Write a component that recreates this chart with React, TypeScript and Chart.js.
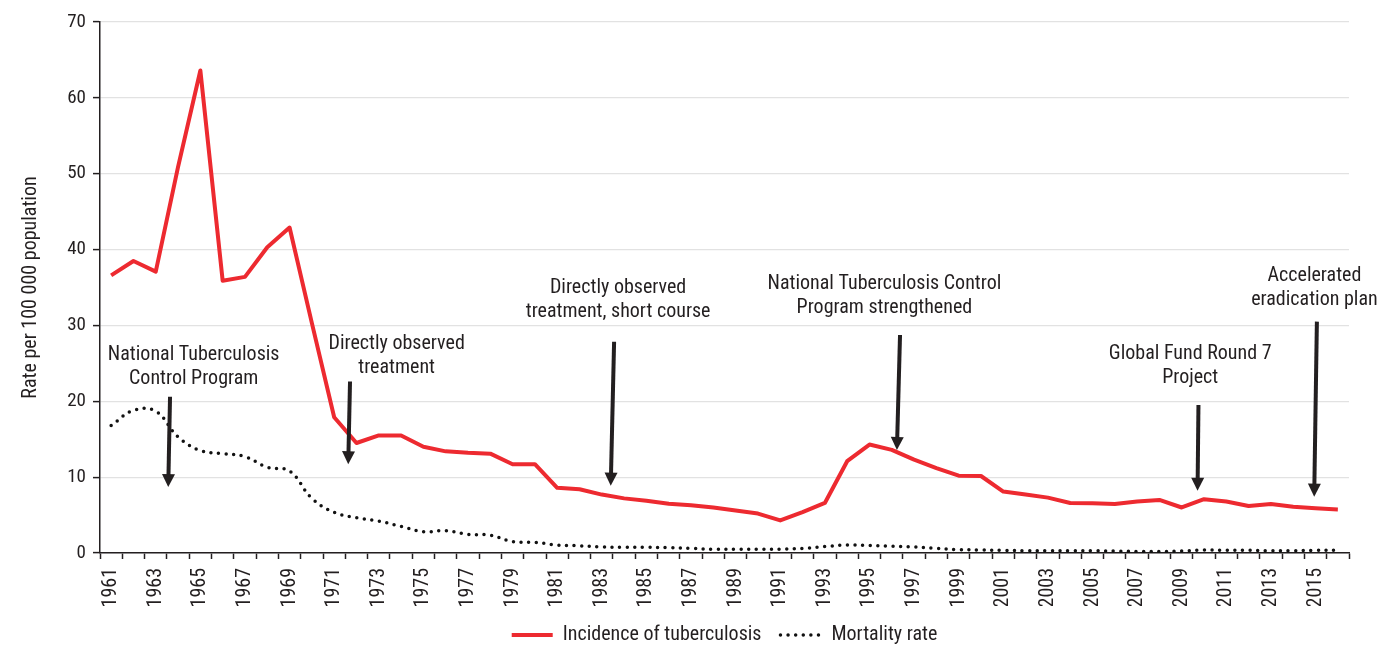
import React, { useEffect, useRef } from 'react';
import { Chart, registerables } from 'chart.js';

Chart.register(...registerables);

const years = [
  '1961', '1962', '1963', '1964', '1965', '1966', '1967', '1968', '1969', '1970',
  '1971', '1972', '1973', '1974', '1975', '1976', '1977', '1978', '1979', '1980',
  '1981', '1982', '1983', '1984', '1985', '1986', '1987', '1988', '1989', '1990',
  '1991', '1992', '1993', '1994', '1995', '1996', '1997', '1998', '1999', '2000',
  '2001', '2002', '2003', '2004', '2005', '2006', '2007', '2008', '2009', '2010',
  '2011', '2012', '2013', '2014', '2015', '2016',
];

const incidence = [
  36.6, 38.5, 37.1, 50.9, 63.6, 35.9, 36.4, 40.3, 42.9, 30.3,
  17.9, 14.5, 15.5, 15.5, 14.0, 13.4, 13.2, 13.1, 11.7, 11.7,
  8.6, 8.4, 7.7, 7.2, 6.9, 6.5, 6.3, 6.0, 5.6, 5.2,
  4.3, 5.4, 6.6, 12.1, 14.3, 13.6, 12.3, 11.2, 10.2, 10.15,
  8.1, 7.7, 7.3, 6.6, 6.55, 6.45, 6.8, 7.0, 6.0, 7.1,
  6.8, 6.2, 6.45, 6.1, 5.9, 5.75,
];

const mortality = [
  16.8, 18.8, 18.7, 15.3, 13.5, 13.1, 12.7, 11.3, 10.8, 7.2,
  5.35, 4.65, 4.2, 3.5, 2.8, 2.95, 2.45, 2.35, 1.5, 1.4,
  1.05, 0.95, 0.8, 0.75, 0.75, 0.7, 0.6, 0.5, 0.5, 0.5,
  0.5, 0.6, 0.85, 1.05, 1.0, 0.9, 0.8, 0.6, 0.45, 0.4,
  0.35, 0.3, 0.3, 0.3, 0.3, 0.25, 0.2, 0.2, 0.25, 0.4,
  0.35, 0.35, 0.3, 0.3, 0.35, 0.35,
];

const seriesNames = ['Incidence of tuberculosis', 'Mortality rate'];
const yAxisTitle = 'Rate per 100 000 population';

// Annotations (positions in data units: x = category index, y = rate)
const annotationLines = [
  ['National Tuberculosis', 'Control Program'],
  ['Directly observed', 'treatment'],
  ['Directly observed', 'treatment, short course'],
  ['National Tuberculosis Control', 'Program strengthened'],
  ['Global Fund Round 7', 'Project'],
  ['Accelerated', 'eradication plan'],
];
const annotationTextX = [3.7, 12.8, 22.73, 34.67, 48.38, 53.95];
const annotationTextY = [26.1, 27.55, 34.9, 35.46, 26.2, 36.5];
const arrowTopX = [2.64, 10.71, 22.55, 35.37, 48.75, 54.06];
const arrowTopY = [20.6, 22.6, 27.85, 28.74, 19.5, 30.5];
const arrowTipX = [2.56, 10.63, 22.4, 35.23, 48.71, 53.94];
const arrowTipY = [8.7, 11.7, 8.87, 13.58, 8.2, 7.42];

const FONT = "'Liberation Sans Narrow', 'Roboto Condensed', 'DejaVu Sans Condensed', 'Liberation Sans', sans-serif";
const TEXT = '#231f20';
const RED = '#ed2a30';

const annotationPlugin = {
  id: 'tbAnnotations',
  afterDatasetsDraw(chart: any) {
    const { ctx, scales } = chart;
    const xs = scales.x;
    const ys = scales.y;
    ctx.save();
    ctx.fillStyle = TEXT;
    ctx.strokeStyle = TEXT;
    ctx.font = `20px ${FONT}`;
    ctx.textAlign = 'center';
    ctx.textBaseline = 'middle';
    annotationLines.forEach((lines, i) => {
      const tx = xs.getPixelForValue(annotationTextX[i]);
      const ty = ys.getPixelForValue(annotationTextY[i]);
      lines.forEach((line, j) => {
        ctx.fillText(line, tx, ty + j * 23.5);
      });
      const x1 = xs.getPixelForValue(arrowTopX[i]);
      const y1 = ys.getPixelForValue(arrowTopY[i]);
      const x2 = xs.getPixelForValue(arrowTipX[i]);
      const y2 = ys.getPixelForValue(arrowTipY[i]);
      const dx = x2 - x1;
      const dy = y2 - y1;
      const len = Math.sqrt(dx * dx + dy * dy);
      const ux = dx / len;
      const uy = dy / len;
      const headLen = 13;
      const headHalf = 6.5;
      const bx = x2 - ux * headLen;
      const by = y2 - uy * headLen;
      ctx.lineWidth = 4;
      ctx.lineCap = 'butt';
      ctx.beginPath();
      ctx.moveTo(x1, y1);
      ctx.lineTo(bx + ux * 1, by + uy * 1);
      ctx.stroke();
      ctx.beginPath();
      ctx.moveTo(x2, y2);
      ctx.lineTo(bx - uy * headHalf, by + ux * headHalf);
      ctx.lineTo(bx + uy * headHalf, by - ux * headHalf);
      ctx.closePath();
      ctx.fill();
    });
    ctx.restore();
  },
};

export default function App() {
  const canvasRef = useRef<HTMLCanvasElement | null>(null);

  useEffect(() => {
    const canvas = canvasRef.current;
    if (!canvas) return;
    const chart = new Chart(canvas, {
      type: 'line',
      data: {
        labels: years,
        datasets: [
          {
            label: seriesNames[0],
            data: incidence,
            borderColor: RED,
            backgroundColor: RED,
            borderWidth: 4,
            pointRadius: 0,
            tension: 0,
            borderJoinStyle: 'round',
            borderCapStyle: 'butt',
          },
          {
            label: seriesNames[1],
            data: mortality,
            borderColor: '#111111',
            backgroundColor: '#111111',
            borderWidth: 3.5,
            borderDash: [0, 7.6],
            borderCapStyle: 'round',
            pointRadius: 0,
            tension: 0.4,
          },
        ],
      },
      options: {
        responsive: false,
        animation: false,
        events: [],
        layout: { padding: { left: 0, right: 38, top: 22, bottom: 0 } },
        plugins: {
          legend: {
            position: 'bottom',
            fullSize: false,
            labels: {
              usePointStyle: true,
              pointStyle: 'line',
              pointStyleWidth: 41,
              padding: 19,
              color: TEXT,
              font: { family: FONT, size: 20 },
              generateLabels: (chart: any) => {
                const items = Chart.defaults.plugins.legend.labels.generateLabels(chart);
                return items.map((item: any) => {
                  const ds: any = chart.data.datasets[item.datasetIndex];
                  return {
                    ...item,
                    lineDash: ds.borderDash || [],
                    lineCap: ds.borderCapStyle || 'butt',
                    lineWidth: ds.borderWidth,
                    strokeStyle: ds.borderColor,
                    fillStyle: ds.borderColor,
                    fontColor: TEXT,
                  };
                });
              },
            },
          },
          tooltip: { enabled: false },
        },
        scales: {
          x: {
            type: 'category',
            offset: true,
            grid: {
              display: true,
              drawOnChartArea: false,
              drawTicks: true,
              tickLength: 6,
              tickColor: TEXT,
              tickWidth: 1.5,
              offset: true,
            },
            border: { display: true, color: TEXT, width: 1.5 },
            ticks: {
              autoSkip: false,
              maxRotation: 90,
              minRotation: 90,
              padding: 9,
              color: TEXT,
              font: { family: FONT, size: 20 },
              callback: (_v: any, i: number) => (i % 2 === 0 ? years[i] : ''),
            },
            afterFit: (scale: any) => {
              scale.height = 53;
            },
          },
          y: {
            min: 0,
            max: 70,
            ticks: {
              stepSize: 10,
              padding: 7,
              color: TEXT,
              font: { family: FONT, size: 19 },
            },
            grid: {
              color: '#e2e2e2',
              lineWidth: 1.2,
              tickColor: TEXT,
              tickLength: 7,
              tickWidth: 1.5,
            },
            border: { display: true, color: TEXT, width: 1.5 },
            title: {
              display: true,
              text: yAxisTitle,
              color: TEXT,
              font: { family: FONT, size: 20 },
              padding: { top: 19, bottom: 0 },
            },
            afterFit: (scale: any) => {
              scale.width = 100;
            },
          },
        },
      },
      plugins: [annotationPlugin],
    });
    return () => chart.destroy();
  }, []);

  return (
    <div
      style={{
        position: 'fixed',
        left: 0,
        top: 0,
        width: 1387,
        height: 645,
        overflow: 'hidden',
        background: '#ffffff',
      }}
    >
      <canvas ref={canvasRef} width={1387} height={655} style={{ display: 'block' }} />
    </div>
  );
}
